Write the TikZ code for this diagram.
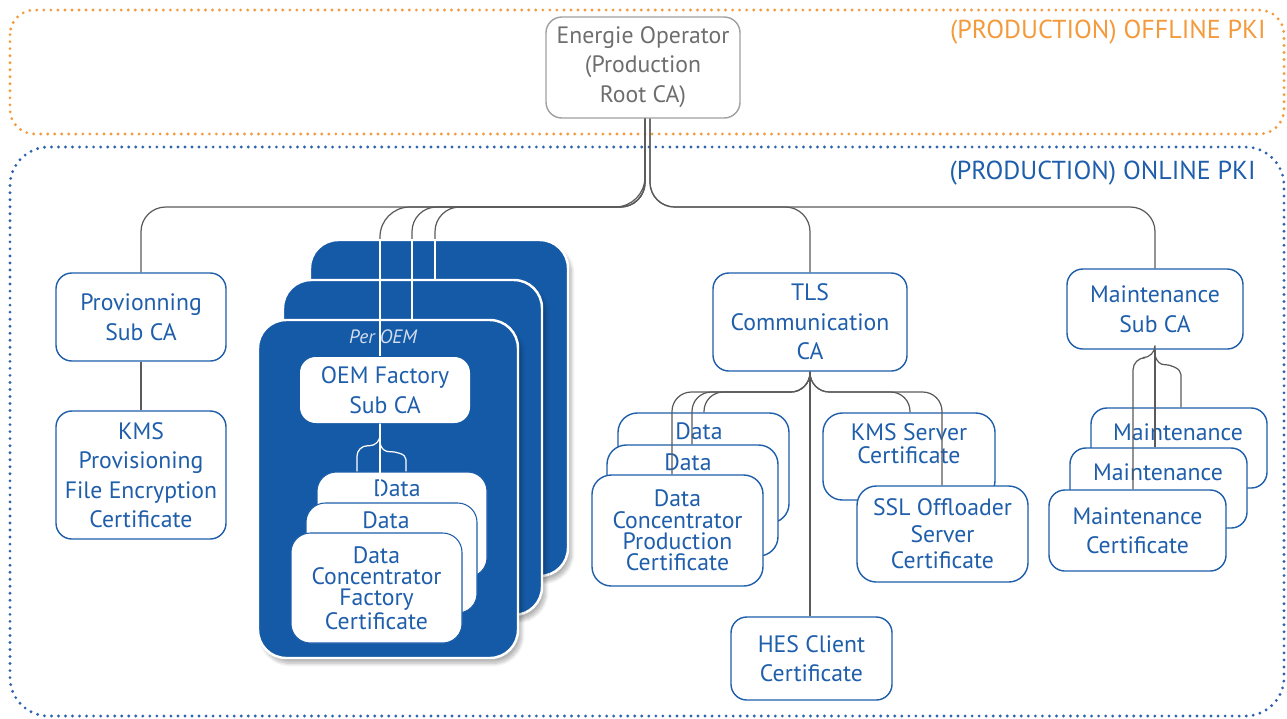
\documentclass[tikz,border=0pt]{standalone}
\usepackage{fontspec}
\setmainfont{PT Sans}
\usetikzlibrary{shadows.blur}
\definecolor{bt}{HTML}{1F5EAB}
\definecolor{bf}{HTML}{155AA6}
\definecolor{org}{HTML}{F39A3C}
\definecolor{bd}{HTML}{2E63AE}
\definecolor{lg}{HTML}{5A5A5A}
\definecolor{rt}{HTML}{6E6E6E}
\definecolor{rg}{HTML}{A0A0A0}
\definecolor{pe}{HTML}{D2DEF0}
\newcommand\pbox[7][]{\node[box,#1,minimum width={(#5-#3)*0.02cm},minimum height={(#6-#4)*0.02cm}] (#2) at ({(#3+#5)/2},{(#4+#6)/2}) {#7};}
\tikzset{
  box/.style={draw=bt, text=bt, line width=0.8pt, rounded corners=9pt, fill=white, align=center, inner sep=0pt, font=\fontsize{13.5}{16.8}\selectfont},
  tight/.style={font=\fontsize{13.5}{12.2}\selectfont},
  card/.style={rounded corners=11pt},
  oem/.style={draw=white, line width=1.4pt, fill=bf, rounded corners=16pt, blur shadow={shadow xshift=2pt, shadow yshift=-3pt, shadow blur steps=8, shadow opacity=30}},
  conn/.style={draw=lg, line width=0.7pt},
  wconn/.style={draw=white, line width=0.7pt},
  txt/.style={text=bt, inner sep=0pt, font=\fontsize{13.5}{16.8}\selectfont},
  region/.style={line width=1.8pt, dash pattern=on 0pt off 4pt, line cap=round},
  lbl/.style={anchor=east, inner sep=0pt, font=\fontsize{14.8}{17}\selectfont}
}
\begin{document}
\begin{tikzpicture}[x=0.02cm,y=-0.02cm]
\useasboundingbox (0,0) rectangle (1287,718);
% regions
\draw[region,draw=org,rounded corners=14pt] (10,10) rectangle (1284,134);
\draw[region,draw=bd,rounded corners=22pt] (10,147) rectangle (1284,716);
\node[lbl,text=org] (offl) at (1266,32) {(PRODUCTION) OFFLINE PKI};
\node[lbl,text=bt] (onl) at (1256,173) {(PRODUCTION) ONLINE PKI};
% root
\pbox[draw=rg,text=rt]{root}{546}{17}{740}{118}{\\[-8pt]Energie Operator\\(Production\\Root CA)}
% provisioning
\pbox{prov}{56}{273}{226}{361}{Provionning\\Sub CA}
\pbox{kms}{56}{411}{226}{539}{KMS\\Provisioning\\File Encryption\\Certificate}
% OEM stack
\pbox[oem]{oemC}{310}{240}{568}{576}{}
\pbox[oem]{oemB}{283}{280}{542}{615}{}
\pbox[oem]{oemA}{258}{320}{518}{658}{}
\node[inner sep=0pt,text=pe,font=\fontsize{11}{13}\selectfont\itshape] (peroem) at (383,337) {Per OEM};
\pbox[draw=none]{ofsca}{300}{357}{470}{423}{OEM Factory\\Sub CA}
\pbox[card,line width=0.6pt]{dfC}{317}{472}{487}{577}{}
\node[txt] (tdfC) at (397,488) {Data};
\pbox[card,line width=0.6pt]{dfB}{306}{503}{477}{613}{}
\node[txt] (tdfB) at (386,520) {Data};
\pbox[card,tight,line width=0.6pt]{dfA}{291}{533}{462}{643}{Data\\Concentrator\\Factory\\Certificate}
% TLS
\pbox{tls}{713}{273}{907}{371}{TLS\\Communication\\CA}
\pbox[card]{dpC}{618}{413}{789}{523}{}
\node[txt] (tdpC) at (699,431) {Data};
\pbox[card]{dpB}{607}{445}{778}{556}{}
\node[txt] (tdpB) at (688,462) {Data};
\pbox[card,tight]{dpA}{592}{475}{763}{586}{Data\\Concentrator\\Production\\Certificate}
\pbox[card,font=\fontsize{13.5}{13}\selectfont]{kmss}{823}{413}{995}{500}{KMS Server\\Certificate\\[2pt]}
\pbox[card,font=\fontsize{13.5}{15}\selectfont]{ssl}{857}{486}{1028}{582}{SSL Offloader\\Server\\Certificate}
\pbox{hes}{731}{617}{892}{700}{HES Client\\Certificate}
% Maintenance
\pbox{ms}{1067}{269}{1243}{349}{Maintenance\\Sub CA}
\pbox{mC}{1091}{408}{1267}{488}{}
\node[txt] (tmC) at (1178,432) {Maintenance};
\pbox{mB}{1070}{448}{1247}{528}{}
\node[txt] (tmB) at (1158,472) {Maintenance};
\pbox{mA}{1049}{490}{1226}{571}{Maintenance\\Certificate}
% coordinates
\coordinate (hl) at (0,207);
\coordinate (rl) at (645,0);
\coordinate (rr) at (650,0);
\coordinate (b1) at (380,0);
\coordinate (b2) at (412,0);
\coordinate (b3) at (435,0);
\coordinate (ox) at (380,0);
\coordinate (lx) at (357,0);
\coordinate (rx) at (406,0);
\coordinate (hy) at (0,392);
\coordinate (t1) at (672,0);
\coordinate (t2) at (692,0);
\coordinate (t3) at (704,0);
\coordinate (k1) at (910,0);
\coordinate (k2) at (942,0);
\coordinate (ml) at (1133,0);
\coordinate (mr) at (1181,0);
% root connectors
\draw[conn,rounded corners=14pt] (root.south -| rl) |- (prov.north |- hl) -- (prov.north);
\draw[conn,rounded corners=14pt] (root.south -| rr) |- (tls.north |- hl) -- (tls.north);
\draw[conn,rounded corners=14pt] (root.south -| rr) |- (ms.north |- hl) -- (ms.north);
\draw[conn,rounded corners=17pt] (root.south -| rl) |- (b1 |- hl) -- (b1 |- oemC.north);
\draw[conn,rounded corners=14pt] (root.south -| rl) |- (b2 |- hl) -- (b2 |- oemC.north);
\draw[conn,rounded corners=14pt] (root.south -| rl) |- (b3 |- hl) -- (b3 |- oemC.north);
\draw[wconn] (b1 |- oemC.north) -- (b1 |- ofsca.north);
\draw[wconn] (b2 |- oemC.north) -- (b2 |- oemA.north);
\draw[wconn] (b3 |- oemC.north) -- (b3 |- oemB.north);
% provisioning
\draw[conn] (prov.south) -- (kms.north);
% OEM data
\draw[wconn] (ofsca.south -| ox) -- (ox |- dfB.north);
\draw[wconn,rounded corners=6pt] (ofsca.south -| ox) -- ++(0,22) -| (lx |- dfC.north);
\draw[wconn] (ofsca.south -| ox) -- ++(0,20) .. controls +(2,6) and +(-5,0) .. ++(10,8) .. controls +(6,0) and +(0,-6) .. ++(16,8) -- (rx |- dfC.north);
% TLS
\draw[conn,rounded corners=11pt] (tls.south) |- (t1 |- hy) -- (t1 |- dpA.north);
\draw[conn,rounded corners=11pt] (tls.south) |- (t2 |- hy) -- (t2 |- dpB.north);
\draw[conn,rounded corners=11pt] (tls.south) |- (t3 |- hy) -- (t3 |- dpC.north);
\draw[conn,rounded corners=11pt] (tls.south) |- (k1 |- hy) -- (k1 |- kmss.north);
\draw[conn,rounded corners=11pt] (tls.south) |- (k2 |- hy) -- (k2 |- ssl.north);
\draw[conn] (tls.south) -- (tls.south |- hes.north);
% Maintenance
\draw[conn] (ms.south) -- (ms.south |- mB.north);
\draw[conn,rounded corners=7pt] (ms.south) -- ++(0,8) -| (ml |- mA.north);
\draw[conn] (ms.south) -- ++(0,6) .. controls +(2,6) and +(-5,0) .. ++(10,9) .. controls +(6,0) and +(0,-6) .. ++(16,10) -- (mr |- mC.north);
\end{tikzpicture}
\end{document}
